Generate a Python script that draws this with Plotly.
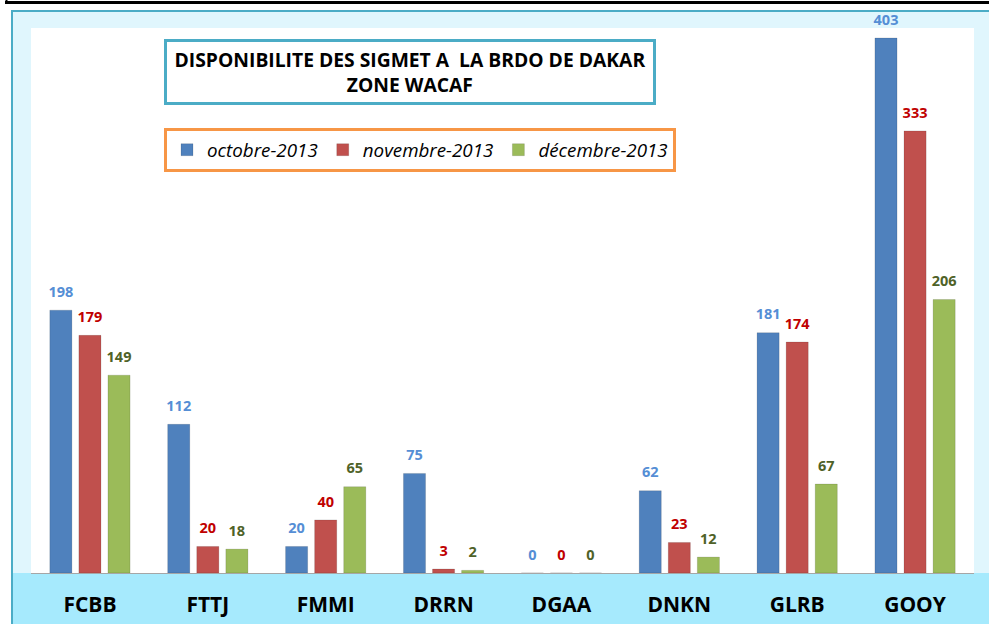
import plotly.graph_objects as go

categories = ["FCBB", "FTTJ", "FMMI", "DRRN", "DGAA", "DNKN", "GLRB", "GOOY"]
series_names = ["octobre-2013", "novembre-2013", "décembre-2013"]
oct_vals = [198, 112, 20, 75, 0, 62, 181, 403]
nov_vals = [179, 20, 40, 3, 0, 23, 174, 333]
dec_vals = [149, 18, 65, 2, 0, 12, 67, 206]

bar_colors = ["#4F81BD", "#C0504D", "#9BBB59"]
label_colors = ["#558ED5", "#C00000", "#4F6228"]

W, H = 989, 624
L, R, T, B = 31, 974, 28, 573
FONT = "Open Sans"

def px(x):
    return (x - L) / (R - L)

def py(y):
    return (B - y) / (B - T)

fig = go.Figure()
for i, (name, vals, c, lc) in enumerate(zip(series_names, [oct_vals, nov_vals, dec_vals], bar_colors, label_colors)):
    fig.add_trace(go.Bar(
        x=categories, y=vals, name=name, offsetgroup=str(i),
        marker=dict(color=c, line=dict(color="rgba(0,0,0,0.12)", width=1)),
        hoverinfo="skip",
    ))
for i, (name, vals, lc) in enumerate(zip(series_names, [oct_vals, nov_vals, dec_vals], label_colors)):
    fig.add_trace(go.Scatter(
        x=categories, y=vals, name=name, offsetgroup=str(i), showlegend=False,
        mode="markers+text", marker=dict(size=14, opacity=0),
        text=[str(v) for v in vals], textposition="top center",
        textfont=dict(family=FONT, size=14.5, color=lc, weight="bold"),
        cliponaxis=False, hoverinfo="skip",
    ))

shapes = [
    dict(type="line", xref="paper", yref="paper", x0=px(5), x1=px(989), y0=py(2.5), y1=py(2.5),
         line=dict(color="black", width=3), layer="below"),
    dict(type="line", xref="paper", yref="paper", x0=px(6.5), x1=px(6.5), y0=py(0), y1=py(4),
         line=dict(color="black", width=2), layer="below"),
    dict(type="rect", xref="paper", yref="paper", x0=px(12), x1=px(995), y0=py(11), y1=py(630),
         fillcolor="#E0F6FD", line=dict(color="#4BACC6", width=2), layer="below"),
    dict(type="rect", xref="paper", yref="paper", x0=px(13), x1=px(995), y0=py(B), y1=py(630),
         fillcolor="#A6EAFD", line=dict(width=0), layer="below"),
    dict(type="rect", xref="paper", yref="paper", x0=0, x1=1, y0=0, y1=1,
         fillcolor="white", line=dict(width=0), layer="below"),
]

fig.update_layout(
    width=W, height=H,
    margin=dict(l=L, r=W - R, t=T, b=H - B, autoexpand=False),
    paper_bgcolor="white", plot_bgcolor="white",
    barmode="group", bargap=0.26, bargroupgap=0.24,
    scattermode="group", scattergap=0.26,
    shapes=shapes,
    showlegend=True,
    legend=dict(
        orientation="h", x=px(164), y=py(128), xanchor="left", yanchor="top",
        bordercolor="#F79646", borderwidth=3, bgcolor="white",
        font=dict(family=FONT, size=18.8, color="black", style="italic"),
        itemwidth=30, entrywidth=0, tracegroupgap=0,
    ),
    annotations=[dict(
        xref="paper", yref="paper", x=px(410), y=py(71.5), xanchor="center", yanchor="middle",
        text="<b>DISPONIBILITE DES SIGMET A  LA BRDO DE DAKAR<br>ZONE WACAF</b>",
        showarrow=False, width=484, height=58,
        font=dict(family=FONT, size=19.3, color="black"),
        bordercolor="#4BACC6", borderwidth=3, bgcolor="white", align="center",
    )],
    xaxis=dict(
        showline=True, linecolor="#A6A6A6", linewidth=1, ticks="",
        tickfont=dict(family=FONT, size=21, color="black", weight="bold"),
        ticklabelstandoff=13, showgrid=False, automargin=False,
    ),
    yaxis=dict(range=[0, 410.5], visible=False, showgrid=False, zeroline=False, automargin=False),
    font=dict(family=FONT),
)

fig.write_html("out.html", config={"displayModeBar": False},
               post_script="document.body.style.margin='0';document.body.style.overflow='hidden';")
